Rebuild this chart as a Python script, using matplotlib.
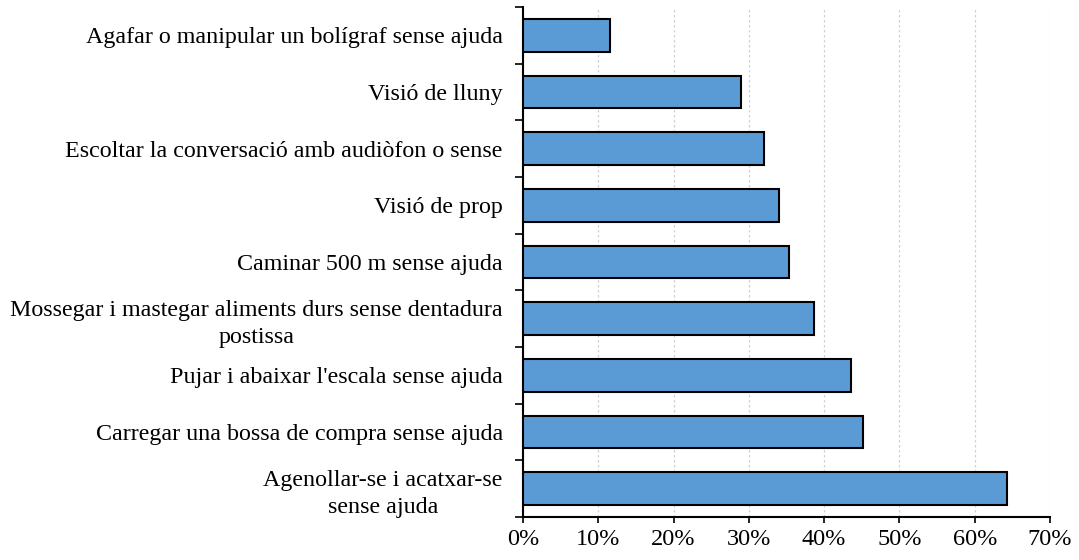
import matplotlib.pyplot as plt
import numpy as np
from matplotlib.ticker import FuncFormatter

plt.rcParams['font.family'] = ['Liberation Serif', 'DejaVu Serif']

categories = [
    'Agafar o manipular un bolígraf sense ajuda',
    'Visió de lluny',
    'Escoltar la conversació amb audiòfon o sense',
    'Visió de prop',
    'Caminar 500 m sense ajuda',
    'Mossegar i mastegar aliments durs sense dentadura\npostissa',
    "Pujar i abaixar l'escala sense ajuda",
    'Carregar una bossa de compra sense ajuda',
    'Agenollar-se i acatxar-se\nsense ajuda',
]
values = [11.5, 28.9, 32.0, 34.0, 35.3, 38.6, 43.6, 45.2, 64.3]
xticks = [0, 10, 20, 30, 40, 50, 60, 70]

fig = plt.figure(figsize=(10.79, 5.6), dpi=100)
ax = fig.add_axes([0.4847, 0.0768, 0.4884, 0.9107])

pos = np.arange(len(categories))
ax.barh(pos, values, height=0.58, color='#5B9BD5', edgecolor='black', linewidth=1.5, zorder=3)

ax.set_ylim(len(categories) - 0.5, -0.5)
ax.set_xlim(0, 70)
ax.set_yticks(pos)
ax.set_yticklabels(categories, fontsize=17.3, multialignment='center', linespacing=1.35)
ax.set_yticks(np.arange(len(categories) + 1) - 0.5, minor=True)
ax.tick_params(axis='y', which='major', length=0, pad=14.5)
ax.tick_params(axis='y', which='minor', length=5.5, width=1.2, direction='out')

ax.set_xticks(xticks)
ax.xaxis.set_major_formatter(FuncFormatter(lambda v, p: f'{v:.0f}%'))
ax.tick_params(axis='x', length=4.5, width=1.2, labelsize=17.5, pad=4)

ax.grid(axis='x', color='#d0d0d0', linestyle=(0, (2, 2)), linewidth=0.9, zorder=0)
ax.spines['top'].set_visible(False)
ax.spines['right'].set_visible(False)
ax.spines['left'].set_linewidth(1.5)
ax.spines['bottom'].set_linewidth(1.5)

fig.savefig('out.png', dpi=100)
